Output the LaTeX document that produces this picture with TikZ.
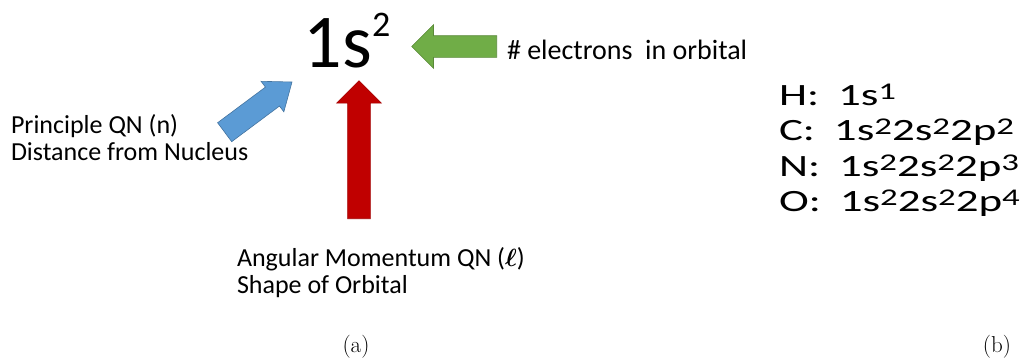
\documentclass[tikz,border=0pt]{standalone}
\usepackage{fontspec}
\newfontfamily\carlito{Carlito}
\newfontfamily\carlitowide[FakeStretch=1.45]{Carlito}
\usetikzlibrary{shapes.arrows,positioning}

\definecolor{qnblue}{HTML}{5B9BD5}
\definecolor{qngreen}{HTML}{70AD47}
\definecolor{qnred}{HTML}{C00000}

% raised small digit, as in 1s^2
\newcommand{\upidx}[1]{\raisebox{6pt}{\fontsize{24}{24}\selectfont #1}}

\begin{document}
\begin{tikzpicture}[
  x=1pt, y=-1pt,
  every node/.style={inner sep=0pt, outer sep=0pt},
  lbl/.style={font=\carlito\fontsize{26}{26.5}\selectfont, align=left, anchor=base west},
  conf/.style={font=\carlitowide\fontsize{31}{35.5}\selectfont, align=left, anchor=base west},
  blockarr/.style={single arrow, single arrow head indent=0pt, line width=0.6pt,
                   inner xsep=0pt, anchor=tip},
  subcap/.style={font=\fontsize{23}{27}\selectfont},
]
  \useasboundingbox (0,0) rectangle (1031,360);

  % the term itself
  \node[font=\carlito\fontsize{76}{76}\selectfont, anchor=base] (term) at (347,67)
    {1s\raisebox{31pt}{\fontsize{36}{36}\selectfont 2}};

  % block arrows, placed by their tips
  \node[blockarr, fill=qngreen, draw=qngreen!80!black, minimum height=85pt,
        inner ysep=10.5pt, single arrow head extend=11pt, rotate=180] (green) at (411.7,46.5) {};
  \node[blockarr, fill=qnred, draw=qnred!85!black, minimum height=138pt,
        inner ysep=11.1pt, single arrow head extend=11pt, rotate=90] (red) at (359,80.7) {};
  \node[blockarr, fill=qnblue, draw=qnblue!75!black, minimum height=84pt,
        inner ysep=11.5pt, single arrow head extend=7.25pt, single arrow tip angle=76,
        rotate=36.7] (blue) at (292,82) {};

  % labels
  \node[lbl, font=\carlito\fontsize{28}{28}\selectfont] (count) at (507,59) {\# electrons\ \ in orbital};
  \node[lbl] (nlab) at (11,160) {Principle QN (n)\\Distance from Nucleus};
  \node[lbl] (llab) at (237,293) {Angular Momentum QN ({\boldmath$\ell$})\\Shape of Orbital};

  % configurations
  \node[conf] (confs) at (779,211.7)
    {H:\hspace{19pt}1s\upidx{1}\\
     C:\hspace{19pt}1s\upidx{2}2s\upidx{2}2p\upidx{2}\\
     N:\hspace{19pt}1s\upidx{2}2s\upidx{2}2p\upidx{3}\\
     O:\hspace{19pt}1s\upidx{2}2s\upidx{2}2p\upidx{4}};

  \node[subcap] (capa) at (356,347) {(a)};
  \node[subcap] (capb) at (997,347) {(b)};
\end{tikzpicture}
\end{document}
